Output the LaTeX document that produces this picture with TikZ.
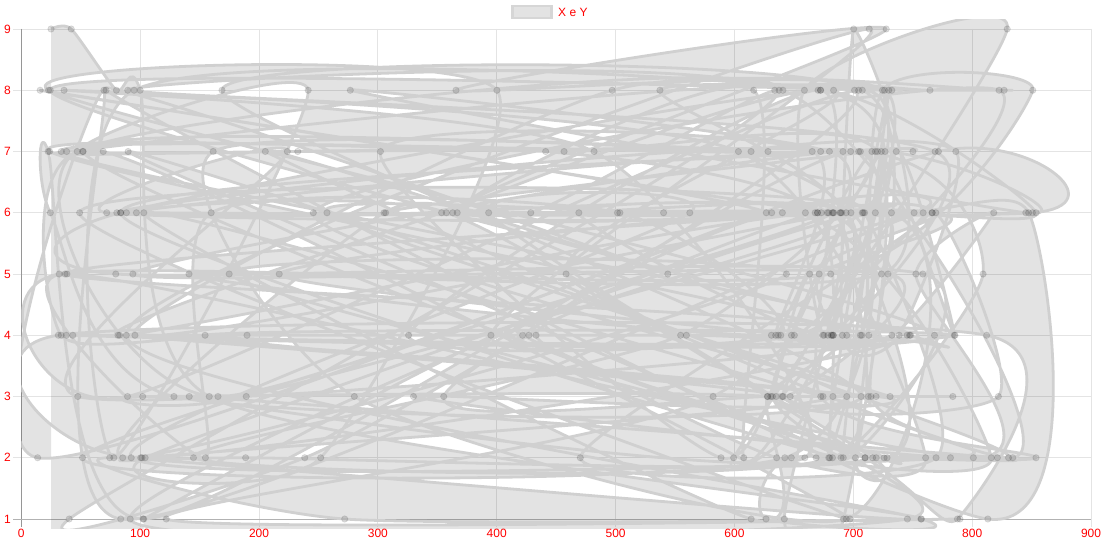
\documentclass[tikz,border=0pt]{standalone}
\usepackage{fontspec}
\setmainfont{Liberation Sans}
\definecolor{tickred}{RGB}{255,0,0}
\definecolor{gridc}{RGB}{228,228,228}
\definecolor{axisc}{RGB}{150,150,150}
\definecolor{linec}{RGB}{208,208,208}
\tikzset{
  ticklab/.style={text=tickred, inner sep=0pt, font=\fontsize{12}{14}\selectfont},
  gridline/.style={draw=gridc, line width=0.8pt},
  axisline/.style={draw=axisc, line width=0.8pt},
  areafill/.style={fill=black, fill opacity=0.11},
  curveline/.style={draw=linec, line width=2.8pt, line join=round},
  ptstyle/.style={fill=black, fill opacity=0.12, draw=black, draw opacity=0.1, line width=0.8pt},
  legbox/.style={draw=black!16, line width=2.5pt, fill=black!11, minimum width=39pt, minimum height=12pt, inner sep=0pt}
}
\begin{document}
\begin{tikzpicture}[x=1pt,y=-1pt]
\useasboundingbox (0,0) rectangle (1113,543);
\fill[white] (0,0) rectangle (1113,543);
% vertical grid and x labels
\foreach \i in {0,...,9}{
  \pgfmathsetmacro{\xp}{21.3+118.86*\i}
  \pgfmathtruncatemacro{\lab}{100*\i}
  \draw[gridline] (\xp,29) -- (\xp,527);
  \node[ticklab] (xl\i) at (\xp,533) {\lab};
}
% horizontal grid and y labels
\foreach \v in {1,...,9}{
  \pgfmathsetmacro{\yp}{519-61.25*(\v-1)}
  \draw[gridline] (13,\yp) -- (1091,\yp);
  \node[ticklab, anchor=east] (yl\v) at (11,\yp) {\v};
}
\draw[axisline] (21.3,29) -- (21.3,527);
\draw[draw=black!30, line width=0.8pt] (13,519) -- (1091,519);
% legend
\node[legbox] (leg) at (532,12) {};
\node[ticklab, anchor=west] (legtxt) at (558,12) {X e Y};
% data
\pgfmathsetseed{4711}
\xdef\pts{(25,8) (42,8) (80,7) (100,7)}
\xdef\prevy{7}
\foreach \i in {1,...,290}{
  \pgfmathsetmacro{\ra}{rnd}
  \pgfmathsetmacro{\rb}{rnd}
  \pgfmathsetmacro{\re}{rnd}
  \pgfmathsetmacro{\xx}{\ra<0.56 ? 590+105*(\rb+\re) : (\ra<0.76 ? 8+100*\rb : (\ra<0.95 ? 110+480*\rb : 800+55*\rb))}
  \pgfmathsetmacro{\rc}{rnd}
  \pgfmathsetmacro{\rd}{rnd}
  \pgfmathsetmacro{\yy}{\rd<0.3 ? \prevy : (\rc<0.08 ? 0 : (\rc<0.21 ? 1 : (\rc<0.31 ? 2 : (\rc<0.48 ? 3 : (\rc<0.54 ? 4 : (\rc<0.72 ? 5 : (\rc<0.84 ? 6 : (\rc<0.97 ? 7 : 8))))))))}
  \xdef\prevy{\yy}
  \xdef\pts{\pts (\xx,\yy)}
}
\xdef\pts{\pts (103,0)}
\begin{scope}[shift={(21.3pt,-519pt)}, x=1.1886pt, y=61.25pt]
  \begin{scope}
    \clip (0,-0.15) rectangle (900,8.15);
    \edef\dofill{\noexpand\fill[areafill] (25,-0.5) -- plot[smooth, tension=0.4] coordinates {\pts} -- (103,-0.5) -- cycle;}
    \dofill
    \edef\doline{\noexpand\draw[curveline] plot[smooth, tension=0.4] coordinates {\pts};}
    \doline
  \end{scope}
  \edef\domarks{\noexpand\draw plot[only marks, mark=*, mark size=3.2pt, mark options={ptstyle}] coordinates {\pts};}
  \domarks
\end{scope}
\end{tikzpicture}
\end{document}
